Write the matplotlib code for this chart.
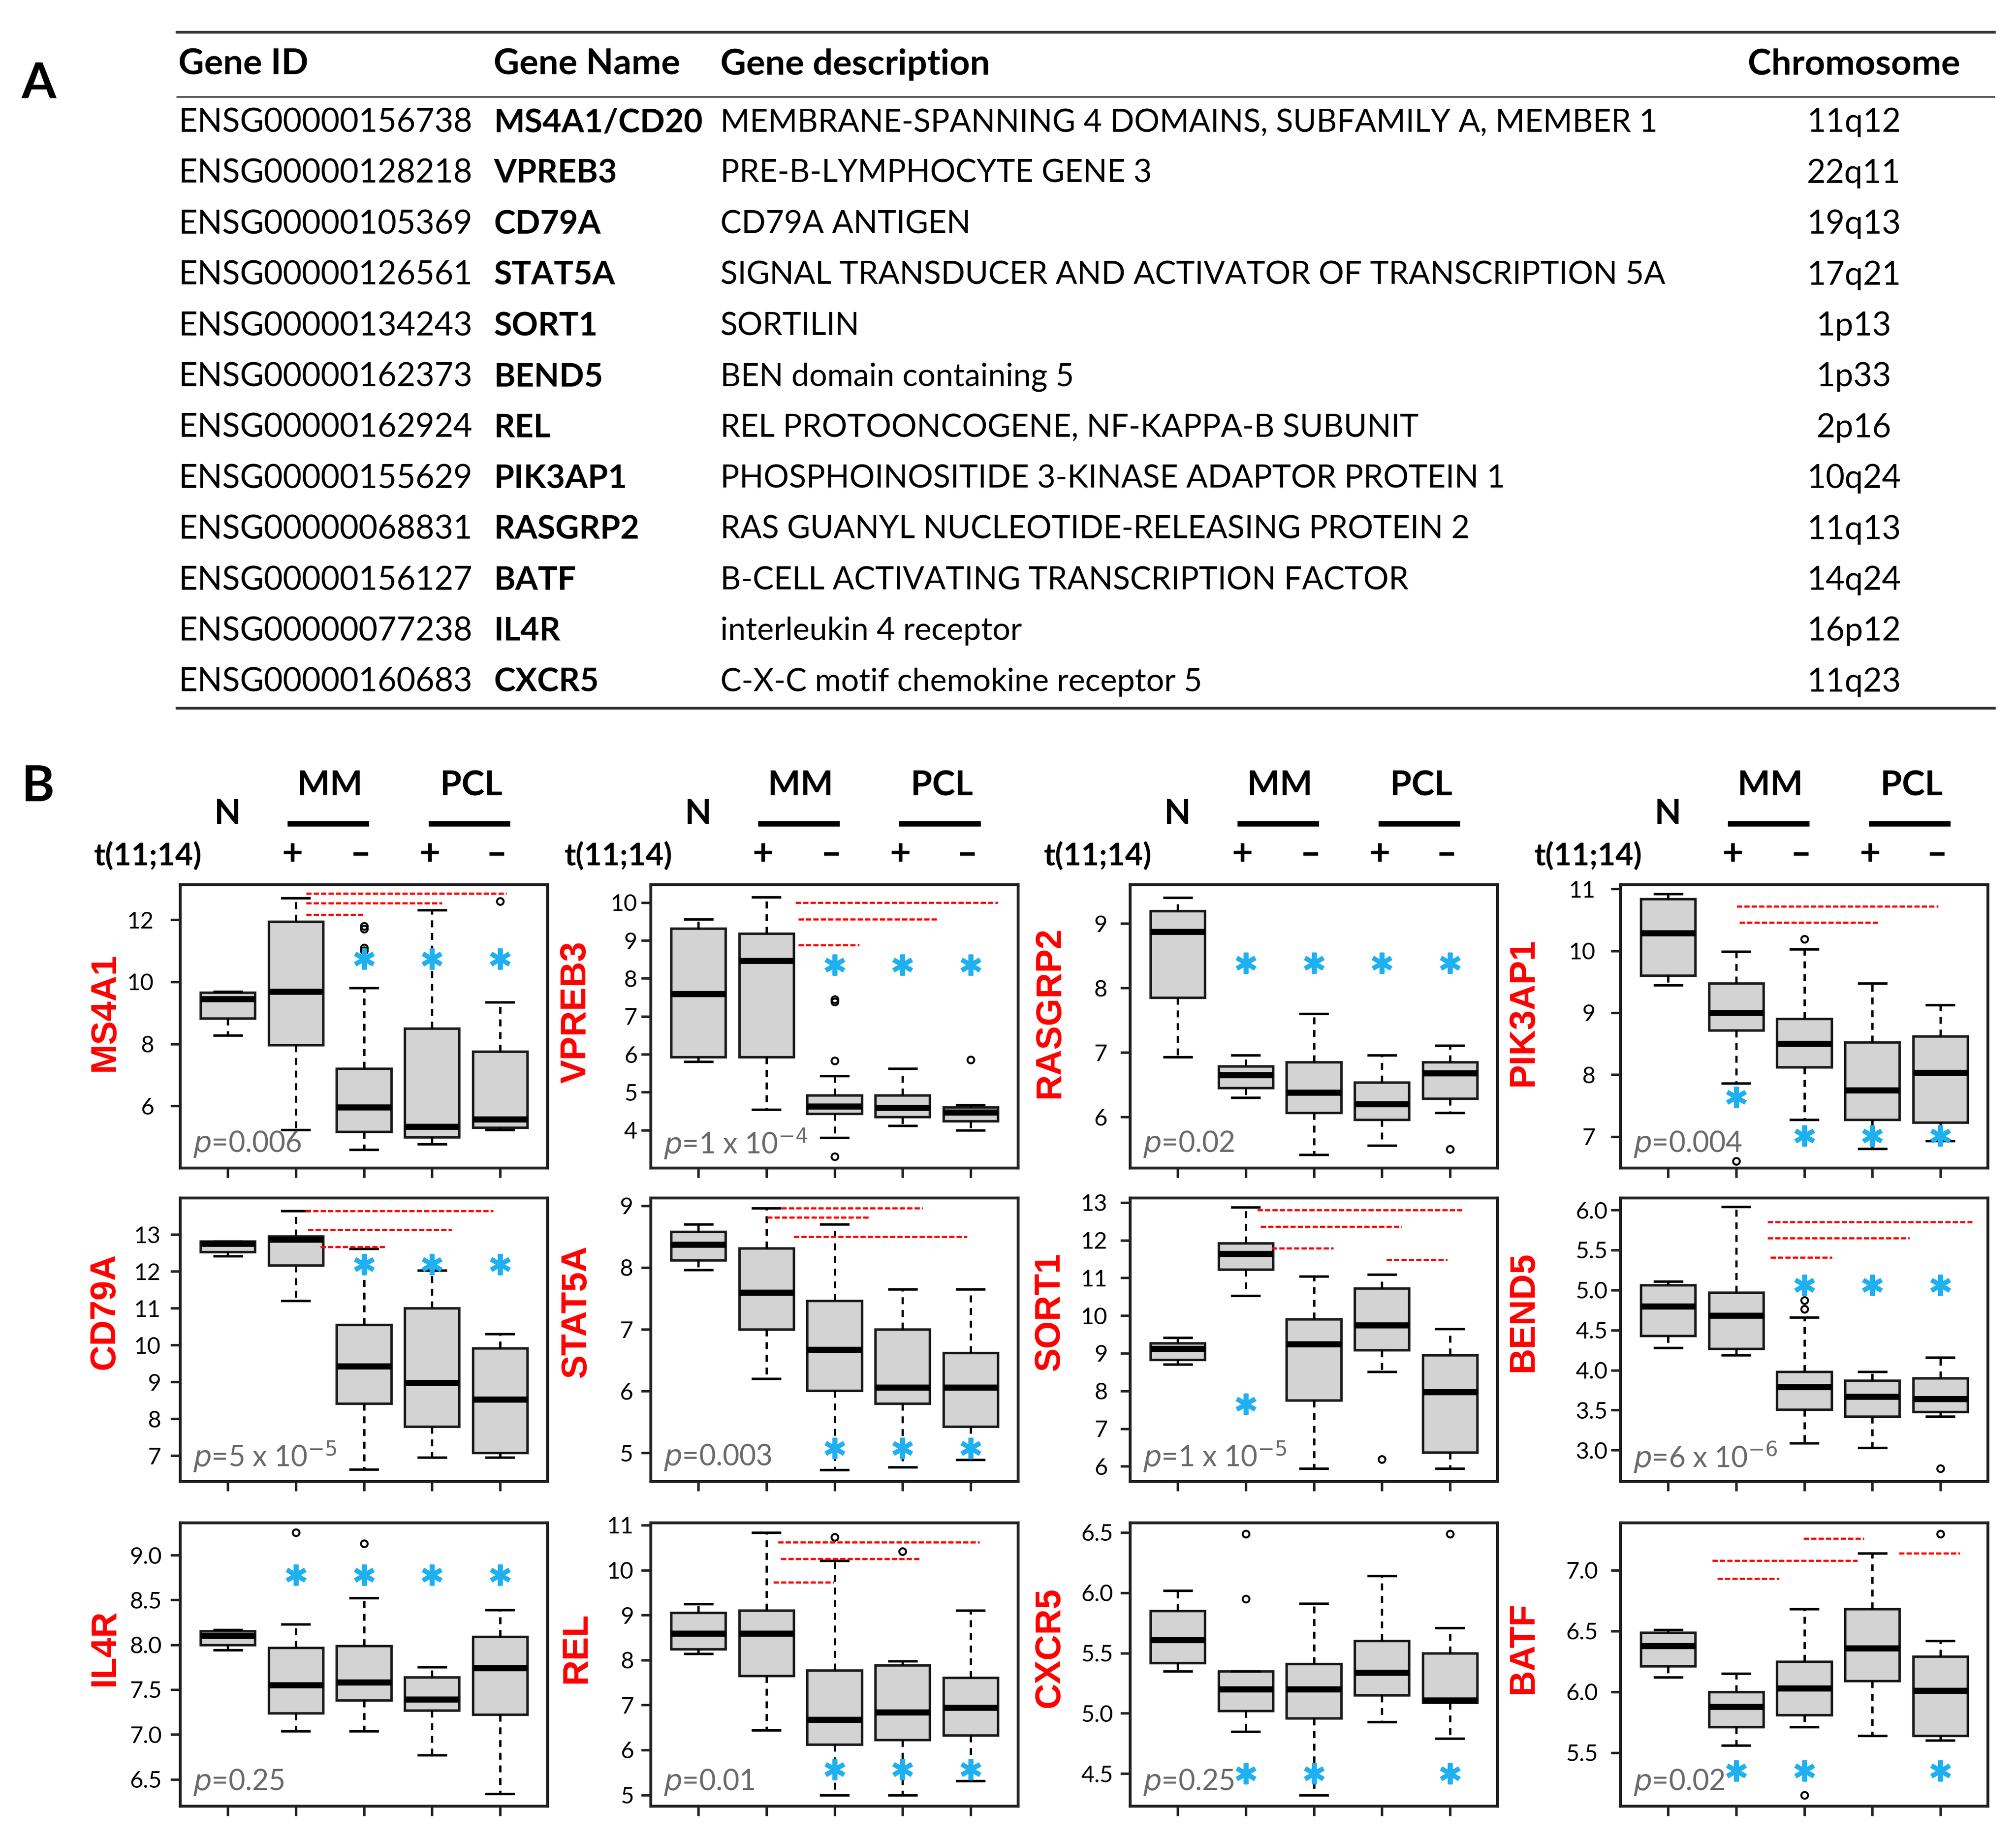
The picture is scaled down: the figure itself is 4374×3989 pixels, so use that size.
import matplotlib
matplotlib.use("Agg")
import matplotlib.pyplot as plt
from matplotlib.lines import Line2D
from matplotlib.ticker import FormatStrFormatter

W, H = 4374, 3989
DPI = 300

plt.rcParams["font.family"] = ["Lato", "DejaVu Sans"]
plt.rcParams["mathtext.fontset"] = "custom"
plt.rcParams["mathtext.rm"] = "Liberation Sans Narrow"
plt.rcParams["mathtext.it"] = "Liberation Sans Narrow:italic"

# ---------------- panel A: gene table ----------------
gene_ids = ["ENSG00000156738", "ENSG00000128218", "ENSG00000105369",
            "ENSG00000126561", "ENSG00000134243", "ENSG00000162373",
            "ENSG00000162924", "ENSG00000155629", "ENSG00000068831",
            "ENSG00000156127", "ENSG00000077238", "ENSG00000160683"]
gene_names = ["MS4A1/CD20", "VPREB3", "CD79A", "STAT5A", "SORT1", "BEND5",
              "REL", "PIK3AP1", "RASGRP2", "BATF", "IL4R", "CXCR5"]
gene_desc = ["MEMBRANE-SPANNING 4 DOMAINS, SUBFAMILY A, MEMBER 1",
             "PRE-B-LYMPHOCYTE GENE 3",
             "CD79A ANTIGEN",
             "SIGNAL TRANSDUCER AND ACTIVATOR OF TRANSCRIPTION 5A",
             "SORTILIN",
             "BEN domain containing 5",
             "REL PROTOONCOGENE, NF-KAPPA-B SUBUNIT",
             "PHOSPHOINOSITIDE 3-KINASE ADAPTOR PROTEIN 1",
             "RAS GUANYL NUCLEOTIDE-RELEASING PROTEIN 2",
             "B-CELL ACTIVATING TRANSCRIPTION FACTOR",
             "interleukin 4 receptor",
             "C-X-C motif chemokine receptor 5"]
chromosomes = ["11q12", "22q11", "19q13", "17q21", "1p13", "1p33",
               "2p16", "10q24", "11q13", "14q24", "16p12", "11q23"]
table_header = ["Gene ID", "Gene Name", "Gene description", "Chromosome"]

# ---------------- panel B: boxplots ----------------
genes = ["MS4A1", "VPREB3", "RASGRP2", "PIK3AP1",
         "CD79A", "STAT5A", "SORT1", "BEND5",
         "IL4R", "REL", "CXCR5", "BATF"]
# groups: N, MM t(11;14)+, MM t(11;14)-, PCL t(11;14)+, PCL t(11;14)-
whislo = [[8.27, 5.23, 4.60, 4.77, 5.23],
          [5.81, 4.54, 3.80, 4.12, 4.00],
          [6.93, 6.30, 5.42, 5.56, 6.07],
          [9.45, 7.86, 7.27, 6.80, 6.93],
          [12.42, 11.20, 6.62, 6.95, 6.95],
          [7.96, 6.20, 4.73, 4.77, 4.89],
          [8.70, 10.53, 5.94, 8.51, 5.94],
          [4.28, 4.19, 3.09, 3.03, 3.42],
          [7.94, 7.04, 7.04, 6.77, 6.34],
          [8.14, 6.44, 5.00, 5.00, 5.31],
          [5.35, 4.85, 4.32, 4.93, 4.79],
          [6.12, 5.56, 5.71, 5.64, 5.60]]
q1 = [[8.82, 7.97, 5.17, 5.00, 5.30],
      [5.93, 5.93, 4.43, 4.35, 4.24],
      [7.85, 6.45, 6.07, 5.96, 6.29],
      [9.60, 8.72, 8.12, 7.27, 7.23],
      [12.53, 12.16, 8.41, 7.79, 7.07],
      [8.12, 7.00, 6.01, 5.80, 5.43],
      [8.83, 11.23, 7.75, 9.09, 6.37],
      [4.43, 4.27, 3.51, 3.42, 3.48],
      [8.00, 7.24, 7.38, 7.27, 7.22],
      [8.24, 7.65, 6.12, 6.23, 6.33],
      [5.42, 5.02, 4.96, 5.15, 5.09],
      [6.21, 5.71, 5.81, 6.09, 5.64]]
med = [[9.45, 9.69, 5.96, 5.34, 5.57],
       [7.59, 8.46, 4.63, 4.59, 4.47],
       [8.87, 6.65, 6.38, 6.20, 6.68],
       [10.29, 9.00, 8.50, 7.75, 8.03],
       [12.75, 12.87, 9.42, 8.97, 8.52],
       [8.37, 7.60, 6.67, 6.06, 6.06],
       [9.12, 11.64, 9.24, 9.74, 7.97],
       [4.80, 4.68, 3.79, 3.67, 3.64],
       [8.10, 7.55, 7.58, 7.39, 7.74],
       [8.59, 8.59, 6.68, 6.84, 6.94],
       [5.61, 5.20, 5.20, 5.34, 5.11],
       [6.38, 5.88, 6.03, 6.36, 6.01]]
q3 = [[9.65, 11.94, 7.20, 8.50, 7.76],
      [9.32, 9.18, 4.92, 4.92, 4.60],
      [9.19, 6.79, 6.85, 6.54, 6.85],
      [10.84, 9.48, 8.90, 8.52, 8.62],
      [12.82, 12.95, 10.55, 11.00, 9.91],
      [8.58, 8.31, 7.46, 7.00, 6.62],
      [9.27, 11.92, 9.91, 10.72, 8.95],
      [5.06, 4.97, 3.98, 3.87, 3.90],
      [8.15, 7.97, 7.99, 7.64, 8.09],
      [9.05, 9.10, 7.77, 7.88, 7.61],
      [5.85, 5.35, 5.41, 5.60, 5.50],
      [6.49, 6.00, 6.25, 6.68, 6.29]]
whishi = [[9.68, 12.70, 9.80, 12.32, 9.35],
          [9.56, 10.14, 5.43, 5.62, 4.66],
          [9.40, 6.96, 7.60, 6.96, 7.11],
          [10.92, 9.99, 10.03, 9.48, 9.13],
          [12.82, 13.64, 12.61, 12.03, 10.30],
          [8.70, 8.96, 8.70, 7.65, 7.65],
          [9.42, 12.87, 11.04, 11.09, 9.65],
          [5.11, 6.04, 4.66, 3.98, 4.16],
          [8.17, 8.23, 8.52, 7.75, 8.39],
          [9.25, 10.84, 10.21, 7.98, 9.10],
          [6.02, 5.35, 5.91, 6.14, 5.71],
          [6.51, 6.15, 6.68, 7.14, 6.42]]
outliers = [[[], [], [11.8, 11.7, 11.1, 11.0], [], [12.6]],
            [[], [], [7.45, 7.38, 5.83, 3.3], [], [5.86]],
            [[], [], [], [], [5.5]],
            [[], [6.6], [10.19], [], []],
            [[], [], [], [], []],
            [[], [], [], [], []],
            [[], [], [], [6.19], []],
            [[], [], [4.87, 4.76], [], [2.77]],
            [[], [9.25], [9.13], [], []],
            [[], [], [10.73], [10.42], []],
            [[], [6.49, 5.95], [], [], [6.49]],
            [[], [], [5.15], [], [7.30]]]
p_values = ["0.006", "1 x 10^-4", "0.02", "0.004",
            "5 x 10^-5", "0.003", "1 x 10^-5", "6 x 10^-6",
            "0.25", "0.01", "0.25", "0.02"]
y_lims = [(4.0, 13.13), (3.0, 10.47), (5.21, 9.6), (6.49, 11.07),
          (6.30, 13.99), (4.54, 9.125), (5.60, 13.12), (2.61, 6.15),
          (6.20, 9.36), (4.75, 11.05), (4.23, 6.58), (5.06, 7.39)]
y_ticks = [[6, 8, 10, 12], [4, 5, 6, 7, 8, 9, 10], [6, 7, 8, 9],
           [7, 8, 9, 10, 11],
           [7, 8, 9, 10, 11, 12, 13], [5, 6, 7, 8, 9],
           [6, 7, 8, 9, 10, 11, 12, 13], [3.0, 3.5, 4.0, 4.5, 5.0, 5.5, 6.0],
           [6.5, 7.0, 7.5, 8.0, 8.5, 9.0], [5, 6, 7, 8, 9, 10, 11],
           [4.5, 5.0, 5.5, 6.0, 6.5], [5.5, 6.0, 6.5, 7.0]]
tick_fmt = ["%d", "%d", "%d", "%d", "%d", "%d", "%d", "%.1f",
            "%.1f", "%d", "%.1f", "%.1f"]
# blue asterisks: group position and value
star_x = [[3, 4, 5], [3, 4, 5], [2, 3, 4, 5], [2, 3, 4, 5],
          [3, 4, 5], [3, 4, 5], [2], [3, 4, 5],
          [2, 3, 4, 5], [3, 4, 5], [2, 3, 5], [2, 3, 5]]
star_y = [[10.74] * 3, [8.36] * 3, [8.39] * 4, [7.64, 7.01, 7.01, 7.01],
          [12.19] * 3, [5.08] * 3, [7.65], [5.06] * 3,
          [8.78] * 4, [5.57] * 3, [4.50] * 3, [5.35] * 3]
# red dashed comparison lines
sig_y = [[12.85, 12.54, 12.16], [10.0, 9.56, 8.88], [], [10.72, 10.46],
         [13.64, 13.13, 12.67], [8.96, 8.81, 8.50],
         [12.80, 12.36, 11.79, 11.48], [5.85, 5.65, 5.41],
         [], [10.62, 10.25, 9.73], [], [7.26, 7.14, 7.08, 6.93]]
sig_x0 = [[2.15, 2.15, 2.15], [2.43, 2.47, 2.47], [], [2.01, 2.05],
          [2.14, 2.18, 2.36], [2.22, 2.01, 2.40],
          [2.17, 2.22, 2.38, 4.07], [2.46, 2.46, 2.50],
          [], [2.17, 2.21, 2.10], [], [2.99, 4.39, 1.65, 1.72]]
sig_x1 = [[5.10, 4.15, 2.98], [5.40, 4.52, 3.36], [], [4.97, 4.08],
          [4.90, 4.29, 3.33], [4.30, 3.50, 4.95],
          [5.18, 4.29, 3.29, 4.96], [5.47, 4.55, 3.41],
          [], [5.13, 4.27, 2.99], [], [3.88, 5.29, 3.78, 2.63]]

# layout in pixels of the final image
col_left = [391, 1412, 2452, 3516]
row_top = [1920, 2600, 3305]
ax_w, ax_h = 797, 615
label_off = [164, 162, 175, 211]
label_yf = [0.55, 0.60, 0.56]
tick_pad = [8.6, 2, 7, 8, 5, 4.3, 6.7, 1.7, 4.5, 3.8, 3.8, 6.7]


def fx(px):
    return px / W


def fy(py):
    return 1 - py / H


def p_label(s):
    if "^" in s:
        base, exp = s.split("^")
        return r"$\mathit{p}$=" + base + r"$^{" + exp + "}$"
    return r"$\mathit{p}$=" + s


fig = plt.figure(figsize=(W / DPI, H / DPI), dpi=DPI)

# ---- panel A
fig.text(fx(84), fy(182), "A", fontsize=26, fontweight="bold",
         ha="center", va="center")
for yy, lw in [(70, 1.4), (210, 0.8), (1537, 1.4)]:
    fig.add_artist(Line2D([fx(384), fx(4327)], [fy(yy), fy(yy)],
                          color="#333333", lw=lw))
head_x = [387, 1071, 1563, 4022]
for k, txt in enumerate(table_header):
    fig.text(fx(head_x[k]), fy(140), txt, fontsize=18.5, fontweight="bold",
             ha="center" if k == 3 else "left", va="center")
for j in range(len(gene_ids)):
    yy = fy(266 + j * 110.4)
    fig.text(fx(387), yy, gene_ids[j], fontsize=17, ha="left", va="center")
    fig.text(fx(1071), yy, gene_names[j], fontsize=17, fontweight="bold",
             ha="left", va="center")
    fig.text(fx(1563), yy, gene_desc[j], fontsize=16.5, ha="left",
             va="center")
    fig.text(fx(4022), yy, chromosomes[j], fontsize=17, ha="center",
             va="center")

# ---- panel B
fig.text(fx(82), fy(1708), "B", fontsize=26, fontweight="bold",
         ha="center", va="center")

for i, gene in enumerate(genes):
    r, c = divmod(i, 4)
    ax = fig.add_axes([fx(col_left[c]), fy(row_top[r] + ax_h),
                       ax_w / W, ax_h / H])
    stats = []
    for k in range(5):
        stats.append(dict(whislo=whislo[i][k], q1=q1[i][k], med=med[i][k],
                          q3=q3[i][k], whishi=whishi[i][k],
                          fliers=outliers[i][k]))
    ax.bxp(stats, positions=range(1, 6), widths=0.8, capwidths=0.4,
           patch_artist=True,
           boxprops=dict(facecolor="#d3d3d3", edgecolor="#1a1a1a", lw=1.3),
           whiskerprops=dict(color="black", lw=1.2, linestyle=(0, (3, 2.5))),
           capprops=dict(color="black", lw=1.3),
           medianprops=dict(color="black", lw=3.2),
           flierprops=dict(marker="o", mfc="none", mec="black", ms=3.5,
                           mew=1.0))

    for yv, a, b in zip(sig_y[i], sig_x0[i], sig_x1[i]):
        ax.plot([a, b], [yv, yv], color="red", lw=1.1,
                linestyle=(0, (2.5, 1.0)), zorder=5)
    ax.plot(star_x[i], star_y[i], linestyle="none", marker=(6, 2, 0),
            ms=11, mew=2.4, color="#1eb0f0", zorder=6)

    ax.set_xlim(0.3, 5.7)
    ax.set_ylim(*y_lims[i])
    ax.set_yticks(y_ticks[i])
    ax.yaxis.set_major_formatter(FormatStrFormatter(tick_fmt[i]))
    ax.set_xticks(range(1, 6))
    ax.set_xticklabels([])
    ax.tick_params(axis="x", length=5, width=1.3, color="#222222")
    ax.tick_params(axis="y", length=5, width=1.3, color="#222222",
                   labelsize=12, pad=tick_pad[i])
    for sp in ax.spines.values():
        sp.set_linewidth(1.5)
        sp.set_color("#222222")

    ax.text(-label_off[c] / ax_w, label_yf[r], gene, transform=ax.transAxes,
            rotation=90, ha="center", va="center", color="red",
            fontsize=18.5, fontweight="bold", family="Liberation Sans")
    ax.text(0.035, 0.085, p_label(p_values[i]), transform=ax.transAxes,
            ha="left", va="center", fontsize=15, color="#6a6a6a")

    if r == 0:
        tr = ax.get_xaxis_transform()
        ax.text(1.0, 1.25, "N", transform=tr, ha="center", va="center",
                fontsize=18, fontweight="bold")
        ax.text(2.5, 1.35, "MM", transform=tr, ha="center", va="center",
                fontsize=18, fontweight="bold")
        ax.text(4.58, 1.35, "PCL", transform=tr, ha="center", va="center",
                fontsize=18, fontweight="bold")
        for a, b in [(1.88, 3.08), (3.95, 5.15)]:
            ax.plot([a, b], [1.215, 1.215], transform=tr, clip_on=False,
                    color="black", lw=2.8, solid_capstyle="butt")
        for xpos, sym in zip([1.95, 2.95, 3.97, 4.95],
                             ["+", "\u2013", "+", "\u2013"]):
            ax.text(xpos, 1.105, sym, transform=tr, ha="center", va="center",
                    fontsize=19, fontweight="bold")
        ax.text(0.62, 1.10, "t(11;14)", transform=tr, ha="right",
                va="center", fontsize=16, fontweight="bold")

fig.savefig("out.png", dpi=DPI)
